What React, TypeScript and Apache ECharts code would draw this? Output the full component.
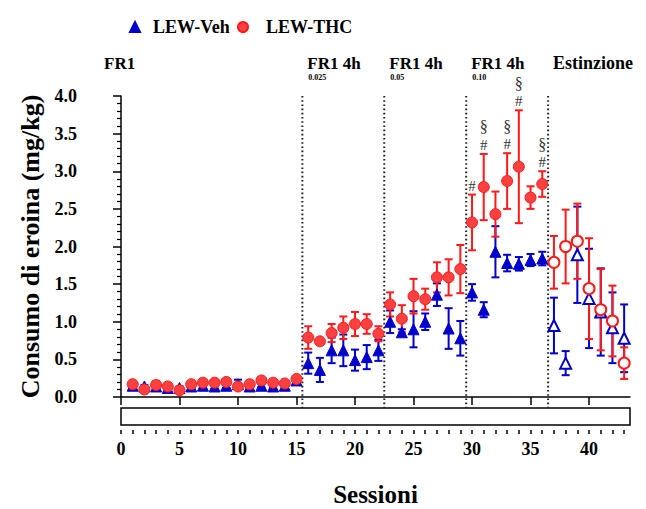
import React, { useEffect, useRef } from "react";
import * as echarts from "echarts";

// ---------- data ----------
const sessions = [
  1, 2, 3, 4, 5, 6, 7, 8, 9, 10, 11, 12, 13, 14, 15,
  16, 17, 18, 19, 20, 21, 22,
  23, 24, 25, 26, 27, 28, 29,
  30, 31, 32, 33, 34, 35, 36,
  37, 38, 39, 40, 41, 42, 43,
];
const vehMean = [
  0.15, 0.14, 0.14, 0.12, 0.12, 0.14, 0.15, 0.14, 0.15, 0.17, 0.14, 0.15, 0.14, 0.15, 0.22,
  0.45, 0.36, 0.62, 0.62, 0.49, 0.53, 0.62,
  1.0, 0.86, 0.9, 1.0, 1.36, 0.91, 0.78,
  1.39, 1.16, 1.93, 1.78, 1.77, 1.82, 1.84,
  0.95, 0.45, 1.89, 1.31, 1.13, 0.92, 0.78,
];
const vehSem = [
  0.02, 0.02, 0.03, 0.03, 0.02, 0.03, 0.02, 0.03, 0.03, 0.06, 0.02, 0.02, 0.02, 0.02, 0.02,
  0.14, 0.16, 0.17, 0.21, 0.14, 0.16, 0.14,
  0.15, 0.04, 0.24, 0.11, 0.15, 0.27, 0.23,
  0.11, 0.1, 0.34, 0.11, 0.09, 0.08, 0.09,
  0.37, 0.16, 0.64, 0.66, 0.58, 0.47, 0.45,
];
const thcMean = [
  0.17, 0.1, 0.16, 0.14, 0.09, 0.17, 0.19, 0.19, 0.2, 0.14, 0.17, 0.22, 0.19, 0.18, 0.24,
  0.79, 0.74, 0.85, 0.92, 0.97, 0.97, 0.84,
  1.23, 1.04, 1.34, 1.3, 1.59, 1.59, 1.7,
  2.32, 2.79, 2.43, 2.87, 3.06, 2.65, 2.83,
  1.79, 2.0, 2.07, 1.44, 1.16, 1.01, 0.45,
];
const thcSem = [
  0.03, 0.02, 0.05, 0.04, 0.02, 0.03, 0.03, 0.03, 0.04, 0.03, 0.03, 0.03, 0.03, 0.03, 0.03,
  0.15, 0.04, 0.12, 0.15, 0.16, 0.13, 0.1,
  0.16, 0.18, 0.23, 0.14, 0.2, 0.24, 0.32,
  0.37, 0.44, 0.3, 0.37, 0.75, 0.15, 0.17,
  0.35, 0.49, 0.5, 0.67, 0.54, 0.47, 0.21,
];
const extinctionFrom = 37; // open markers from this session
const phaseBoundaries = [15.5, 22.5, 29.5, 36.5];
const phaseFirstLabel = "FR1";
const phaseLabels = ["FR1 4h", "FR1 4h", "FR1 4h", "Estinzione"];
const phaseDoses = ["0.025", "0.05", "0.10", ""];
const sigSessions = [30, 31, 33, 34, 36];
const sigHash = ["#", "#", "#", "#", "#"];
const sigSection = ["", "§", "§", "§", "§"];
const xMajorTicks = [0, 5, 10, 15, 20, 25, 30, 35, 40];
const xMinorTicks = [
  0, 1, 2, 3, 4, 5, 6, 7, 8, 9, 10, 11, 12, 13, 14, 15, 16, 17, 18, 19, 20, 21,
  22, 23, 24, 25, 26, 27, 28, 29, 30, 31, 32, 33, 34, 35, 36, 37, 38, 39, 40, 41, 42, 43,
];

// ---------- layout / style ----------
const FONT = "'Liberation Serif', 'Times New Roman', serif";
const GL = 121;
const GT = 96;
const GW = 509;
const GH = 301;
const XMAX = 43.5;
const AXIS_Y = 430;
const RED = "#ff1a1a";
const RED_FILL = "#ff4040";
const BLUE = "#0000cc";

const px = (v: number) => GL + (v / XMAX) * GW;

function errRender(color: string) {
  return (params: any, api: any) => {
    const x = api.value(0);
    const lo = api.value(1);
    const hi = api.value(2);
    const a = api.coord([x, hi]);
    const b = api.coord([x, lo]);
    const w = 4;
    const st = { stroke: color, lineWidth: 2 };
    return {
      type: "group",
      children: [
        { type: "line", shape: { x1: a[0], y1: a[1], x2: b[0], y2: b[1] }, style: st },
        { type: "line", shape: { x1: a[0] - w, y1: a[1], x2: a[0] + w, y2: a[1] }, style: st },
        { type: "line", shape: { x1: b[0] - w, y1: b[1], x2: b[0] + w, y2: b[1] }, style: st },
      ],
    };
  };
}

export default function App() {
  const ref = useRef<HTMLDivElement>(null);

  useEffect(() => {
    if (!ref.current) return;
    const chart = echarts.init(ref.current, null, { renderer: "svg" });

    const vehErr = sessions.map((s, i) => [s, vehMean[i] - vehSem[i], vehMean[i] + vehSem[i]]);
    const thcErr = sessions.map((s, i) => [s, thcMean[i] - thcSem[i], thcMean[i] + thcSem[i]]);
    const vehPts = sessions.map((s, i) => ({
      value: [s, vehMean[i]],
      itemStyle: s >= extinctionFrom ? { color: "#ffffff", borderColor: BLUE, borderWidth: 2 } : undefined,
    }));
    const thcPts = sessions.map((s, i) => ({
      value: [s, thcMean[i]],
      itemStyle: s >= extinctionFrom ? { color: "#ffffff", borderColor: RED, borderWidth: 2 } : undefined,
    }));
    const sigData = sigSessions.map((s, k) => {
      const i = sessions.indexOf(s);
      return [s, thcMean[i] + thcSem[i], k];
    });

    const graphics: any[] = [
      {
        type: "rect",
        silent: true,
        shape: { x: GL, y: 408, width: GW, height: 17 },
        style: { fill: "#ffffff", stroke: "#000000", lineWidth: 1.5 },
      },
      {
        type: "text",
        x: 104,
        y: 63,
        style: { text: phaseFirstLabel, font: `bold 17px ${FONT}`, fill: "#000", verticalAlign: "middle" },
      },
    ];
    phaseBoundaries.forEach((b, i) => {
      const x = px(b) + 5;
      graphics.push({
        type: "text",
        x,
        y: 63,
        style: {
          text: phaseLabels[i],
          font: `bold ${phaseDoses[i] ? 17 : 18}px ${FONT}`,
          fill: "#000",
          verticalAlign: "middle",
        },
      });
      if (phaseDoses[i]) {
        graphics.push({
          type: "text",
          x: x + 1,
          y: 77,
          style: { text: phaseDoses[i], font: `bold 8px ${FONT}`, fill: "#000", verticalAlign: "middle" },
        });
      }
    });

    const option: any = {
      animation: false,
      backgroundColor: "#ffffff",
      textStyle: { fontFamily: FONT },
      legend: [
        {
          left: 124,
          top: 13,
          itemWidth: 10,
          itemHeight: 10,
          selectedMode: false,
          data: [{ name: "LEW-Veh", icon: "triangle" }],
          textStyle: { fontFamily: FONT, fontSize: 18, fontWeight: "bold", color: "#000", padding: [0, 0, 0, 8] },
        },
        {
          left: 232,
          top: 13,
          itemWidth: 10,
          itemHeight: 10,
          selectedMode: false,
          data: [{ name: "LEW-THC", icon: "circle" }],
          textStyle: { fontFamily: FONT, fontSize: 18, fontWeight: "bold", color: "#000", padding: [0, 0, 0, 13] },
        },
      ],
      grid: [
        { left: GL, top: GT, width: GW, height: GH, outerBoundsMode: "none", containLabel: false },
        {
          left: GL,
          top: GT + GH,
          width: GW,
          height: AXIS_Y - (GT + GH),
          outerBoundsMode: "none",
          containLabel: false,
        },
      ],
      xAxis: [
        {
          gridIndex: 0,
          type: "value",
          min: 0,
          max: XMAX,
          interval: 5,
          offset: AXIS_Y - (GT + GH),
          axisLine: { show: true, lineStyle: { color: "#000", width: 1.5 } },
          axisTick: { show: true, length: 8, lineStyle: { color: "#000", width: 1.5 }, customValues: xMajorTicks },
          axisLabel: {
            customValues: xMajorTicks,
            fontFamily: FONT,
            fontSize: 18,
            fontWeight: "bold",
            color: "#000",
            margin: 10,
          },
          splitLine: { show: false },
          name: "Sessioni",
          nameLocation: "middle",
          nameGap: 52,
          nameTextStyle: { fontFamily: FONT, fontSize: 25, fontWeight: "bold", color: "#000" },
        },
        {
          gridIndex: 1,
          type: "value",
          min: 0,
          max: XMAX,
          interval: 1,
          axisLine: { show: false },
          axisTick: { show: true, length: 4, lineStyle: { color: "#000", width: 1.5 }, customValues: xMinorTicks },
          axisLabel: { show: false },
          splitLine: { show: false },
        },
      ],
      yAxis: [
        {
          gridIndex: 0,
          type: "value",
          min: 0,
          max: 4,
          interval: 0.5,
          offset: 33,
          axisLine: { show: true, lineStyle: { color: "#000", width: 1.5 } },
          axisTick: { show: true, length: 8, lineStyle: { color: "#000", width: 1.5 } },
          minorTick: { show: true, splitNumber: 5, length: 4, lineStyle: { color: "#000", width: 1.2 } },
          axisLabel: {
            formatter: (v: number) => v.toFixed(1),
            fontFamily: FONT,
            fontSize: 18,
            fontWeight: "bold",
            color: "#000",
            margin: 11,
          },
          splitLine: { show: false },
          minorSplitLine: { show: false },
          name: "Consumo di eroina (mg/kg)",
          nameLocation: "middle",
          nameGap: 45,
          nameTextStyle: { fontFamily: FONT, fontSize: 26, fontWeight: "bold", color: "#000" },
        },
        { gridIndex: 1, type: "value", min: 0, max: 1, show: false },
      ],
      graphic: graphics,
      series: [
        {
          name: "boundaries",
          type: "custom",
          xAxisIndex: 0,
          yAxisIndex: 0,
          silent: true,
          z: 1,
          clip: false,
          data: phaseBoundaries.map((b) => [b, 0]),
          encode: { x: 0, y: 1 },
          renderItem: (params: any, api: any) => {
            const b = api.value(0);
            const top = api.coord([b, 4]);
            const bot = api.coord([b, 0]);
            return {
              type: "line",
              shape: { x1: top[0], y1: top[1], x2: bot[0], y2: bot[1] + 11 },
              style: { stroke: "#222", lineWidth: 2, lineDash: [1.6, 2.6] },
            };
          },
        },
        {
          name: "vehErr",
          type: "custom",
          xAxisIndex: 0,
          yAxisIndex: 0,
          z: 2,
          silent: true,
          data: vehErr,
          encode: { x: 0, y: [1, 2] },
          renderItem: errRender(BLUE),
        },
        {
          name: "thcErr",
          type: "custom",
          xAxisIndex: 0,
          yAxisIndex: 0,
          z: 3,
          silent: true,
          data: thcErr,
          encode: { x: 0, y: [1, 2] },
          renderItem: errRender(RED),
        },
        {
          name: "LEW-Veh",
          type: "scatter",
          xAxisIndex: 0,
          yAxisIndex: 0,
          z: 4,
          symbol: "triangle",
          symbolSize: 11,
          itemStyle: { color: BLUE, borderColor: BLUE, borderWidth: 1, opacity: 1 },
          data: vehPts,
        },
        {
          name: "LEW-THC",
          type: "scatter",
          xAxisIndex: 0,
          yAxisIndex: 0,
          z: 5,
          symbol: "circle",
          symbolSize: 11,
          itemStyle: { color: RED_FILL, borderColor: RED, borderWidth: 1, opacity: 1 },
          data: thcPts,
        },
        {
          name: "sig",
          type: "custom",
          xAxisIndex: 0,
          yAxisIndex: 0,
          z: 6,
          silent: true,
          clip: false,
          data: sigData,
          encode: { x: 0, y: 1 },
          renderItem: (params: any, api: any) => {
            const k = api.value(2);
            const p = api.coord([api.value(0), api.value(1)]);
            const children: any[] = [
              {
                type: "text",
                x: p[0],
                y: p[1] - 9,
                style: {
                  text: sigHash[k],
                  font: `15px ${FONT}`,
                  fill: "#333",
                  align: "center",
                  verticalAlign: "middle",
                },
              },
            ];
            if (sigSection[k]) {
              children.push({
                type: "text",
                x: p[0],
                y: p[1] - 27,
                style: {
                  text: sigSection[k],
                  font: `16px ${FONT}`,
                  fill: "#333",
                  align: "center",
                  verticalAlign: "middle",
                },
              });
            }
            return { type: "group", children };
          },
        },
      ],
    };

    chart.setOption(option);
    return () => chart.dispose();
  }, []);

  return (
    <div
      ref={ref}
      style={{ position: "fixed", left: 0, top: 0, width: 646, height: 509, background: "#fff" }}
    />
  );
}
